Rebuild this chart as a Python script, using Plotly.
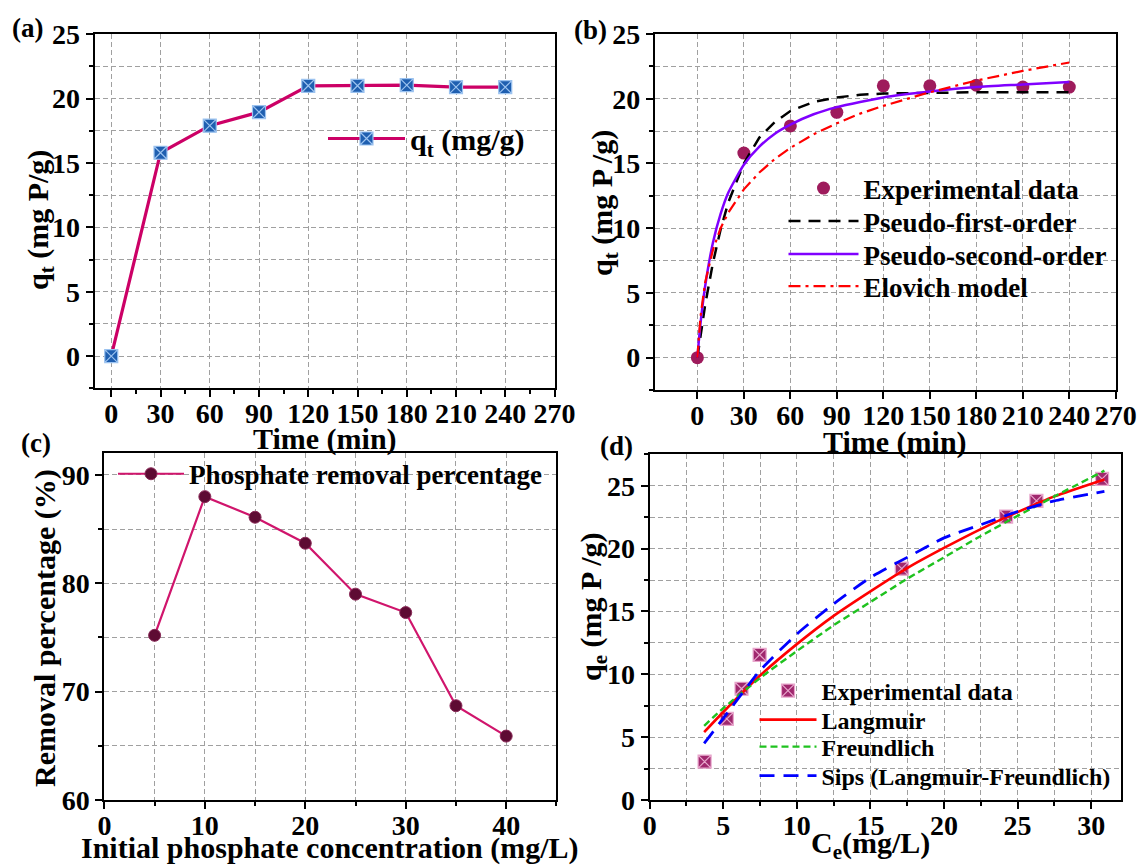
import plotly.graph_objects as go

W, H = 1139, 866
FONT = "Liberation Serif"

# ---------------- data ----------------
# (a)/(b) kinetics
time_min = [0, 30, 60, 90, 120, 150, 180, 210, 240]
qt_exp = [0, 15.8, 17.9, 18.95, 21.0, 21.0, 21.05, 20.9, 20.9]

t_fit = [0, 2, 5, 10, 15, 20, 30, 40, 50, 60, 75, 90, 105, 120, 150, 180, 210, 240]
q_pfo = [0, 1.7, 4.05, 7.3, 9.9, 12.0, 15.0, 17.0, 18.2, 19.05, 19.75, 20.1, 20.3, 20.4, 20.47, 20.5, 20.5, 20.5]
q_pso = [0, 2.6, 5.5, 8.85, 11.1, 12.75, 14.9, 16.3, 17.3, 18.0, 18.8, 19.35, 19.75, 20.1, 20.55, 20.9, 21.1, 21.3]
q_elovich = [0, 3.15, 5.8, 8.3, 10.0, 11.2, 13.0, 14.3, 15.35, 16.2, 17.25, 18.1, 18.85, 19.45, 20.5, 21.4, 22.15, 22.8]

# (c) removal percentage
c0 = [5, 10, 15, 20, 25, 30, 35, 40]
removal = [75.2, 88.0, 86.1, 83.7, 79.0, 77.3, 68.7, 65.9]

# (d) isotherms
ce_exp = [3.73, 5.24, 6.24, 7.47, 17.13, 24.22, 26.28, 30.74]
qe_exp = [3.05, 6.45, 8.85, 11.55, 18.4, 22.55, 23.8, 25.55]
ce_fit = [3.7, 5, 7.5, 10, 12.5, 15, 17.5, 20, 22.5, 25, 27.5, 30.9]
q_langmuir = [5.4, 7.0, 9.9, 12.4, 14.65, 16.6, 18.45, 20.05, 21.55, 22.9, 24.15, 25.5]
q_freundlich = [5.9, 7.3, 9.7, 11.85, 13.9, 15.75, 17.6, 19.3, 21.0, 22.6, 24.15, 26.2]
q_sips = [4.5, 6.5, 10.3, 13.2, 15.6, 17.7, 19.3, 20.85, 21.9, 22.95, 23.8, 24.55]


def fx(px):
    return px / W


def fy(py):
    return 1 - py / H


fig = go.Figure()

# (a)
fig.add_trace(go.Scatter(
    x=time_min, y=qt_exp, mode="lines+markers", name="q<sub>t</sub> (mg/g)",
    line=dict(color="#CC0066", width=3.2),
    marker=dict(symbol="square-x", size=13, color="#1F5FB0",
                line=dict(color="#9CC3F0", width=1.2)),
    xaxis="x", yaxis="y", legend="legend", showlegend=True))

# (b)
fig.add_trace(go.Scatter(
    x=time_min, y=qt_exp, mode="markers", name="Experimental data",
    marker=dict(symbol="circle", size=13, color="#9E1B5C"),
    xaxis="x2", yaxis="y2", legend="legend2", showlegend=True))
fig.add_trace(go.Scatter(
    x=t_fit, y=q_pfo, mode="lines", name="Pseudo-first-order",
    line=dict(color="black", width=2.5, dash="12px,8px"),
    xaxis="x2", yaxis="y2", legend="legend3", showlegend=True))
fig.add_trace(go.Scatter(
    x=t_fit, y=q_pso, mode="lines", name="Pseudo-second-order",
    line=dict(color="#8000FF", width=2.5, shape="spline", smoothing=0.6),
    xaxis="x2", yaxis="y2", legend="legend4", showlegend=True))
fig.add_trace(go.Scatter(
    x=t_fit, y=q_elovich, mode="lines", name="Elovich model",
    line=dict(color="#FF0000", width=2.2, dash="12px,5px,3px,5px"),
    xaxis="x2", yaxis="y2", legend="legend5", showlegend=True))

# (c)
fig.add_trace(go.Scatter(
    x=c0, y=removal, mode="lines+markers", name="Phosphate removal percentage",
    line=dict(color="#D0156C", width=2.2),
    marker=dict(symbol="circle", size=12, color="#5E0B33",
                line=dict(color="#8A2A58", width=1)),
    xaxis="x3", yaxis="y3", legend="legend6", showlegend=True))

# (d)
fig.add_trace(go.Scatter(
    x=ce_exp, y=qe_exp, mode="markers", name="Experimental data",
    marker=dict(symbol="square-x", size=13, color="#A0286E",
                line=dict(color="#E8A6CC", width=1.2)),
    xaxis="x4", yaxis="y4", legend="legend7", showlegend=True))
fig.add_trace(go.Scatter(
    x=ce_fit, y=q_langmuir, mode="lines", name="Langmuir",
    line=dict(color="#FF0000", width=2.6, shape="spline", smoothing=0.6),
    xaxis="x4", yaxis="y4", legend="legend8", showlegend=True))
fig.add_trace(go.Scatter(
    x=ce_fit, y=q_freundlich, mode="lines", name="Freundlich",
    line=dict(color="#1FC21F", width=2.4, dash="7px,4px", shape="spline", smoothing=0.6),
    xaxis="x4", yaxis="y4", legend="legend9", showlegend=True))
fig.add_trace(go.Scatter(
    x=ce_fit, y=q_sips, mode="lines", name="Sips (Langmuir-Freundlich)",
    line=dict(color="#0000FF", width=2.8, dash="15px,9px", shape="spline", smoothing=0.6),
    xaxis="x4", yaxis="y4", legend="legend10", showlegend=True))

GRID = "#A0A0A0"
TICKFONT = dict(family=FONT, size=28, color="black", weight="bold")


def axis(domain, rng, dtick, anchor, minor_dtick=None, minor_grid=True, tick0=0, standoff=0):
    d = dict(domain=domain, range=rng, dtick=dtick, tick0=tick0, anchor=anchor,
             showline=True, linecolor="black", linewidth=2, mirror=True,
             ticks="outside", ticklen=7, tickwidth=2, tickcolor="black",
             showgrid=True, gridcolor=GRID, gridwidth=1, griddash="5px,3px",
             zeroline=False, tickfont=TICKFONT, fixedrange=True, automargin=False,
             ticklabeloverflow="allow", ticklabelstandoff=standoff)
    if minor_dtick is not None:
        d["minor"] = dict(dtick=minor_dtick, ticks="outside", ticklen=4, tickwidth=1.5,
                          tickcolor="black", showgrid=minor_grid, gridcolor=GRID,
                          gridwidth=1, griddash="5px,3px")
    return d


def legend_box(sym_center_x, text_x, row_center_y, size):
    # plotly centres the legend symbol at left + 5 + itemwidth/2 and starts the
    # text at left + itemwidth + 10
    iw = 2 * (text_x - sym_center_x) - 10
    left = text_x - iw - 10
    extra = {30: 29.5, 27: 27, 24: 23.5}[size]
    return dict(x=fx(left), y=fy(row_center_y - extra), xanchor="left", yanchor="top",
                xref="paper", yref="paper", itemwidth=max(30, iw),
                bgcolor="rgba(0,0,0,0)", borderwidth=0,
                font=dict(family=FONT, size=size, color="black", weight="bold"))


XOFF = -8
fig.update_layout(
    width=W, height=H, autosize=False,
    margin=dict(l=0, r=0, t=0, b=0, pad=0, autoexpand=False),
    paper_bgcolor="white", plot_bgcolor="white",
    showlegend=True,
    font=dict(family=FONT, size=27, color="black", weight="bold"),
    xaxis=axis([fx(94.5), fx(554.5)], [-10.2, 270], 30, "y", minor_dtick=15, minor_grid=False, standoff=XOFF),
    yaxis=axis([fy(388.3), fy(34.3)], [-2.5, 25], 5, "x", minor_dtick=2.5),
    xaxis2=axis([fx(654.9), fx(1115.8)], [-27.4, 270], 30, "y2", standoff=XOFF),
    yaxis2=axis([fy(390), fy(34)], [-2.5, 25], 5, "x2", minor_dtick=2.5),
    xaxis3=axis([fx(104.4), fx(556.4)], [0, 45], 10, "y3", minor_dtick=5, standoff=XOFF),
    yaxis3=axis([fy(800), fy(453.3)], [60, 92], 10, "x3", minor_dtick=5),
    xaxis4=axis([fx(649.7), fx(1120.6)], [0, 32], 5, "y4", minor_dtick=2.5, standoff=XOFF),
    yaxis4=axis([fy(800), fy(454.3)], [0, 27.5], 5, "x4", minor_dtick=2.5),
    legend=legend_box(366.5, 410, 142, 30),
    legend2=legend_box(823.5, 863.5, 191, 27),
    legend3=legend_box(823.5, 863.5, 224, 27),
    legend4=legend_box(823.5, 863.5, 257, 27),
    legend5=legend_box(823.5, 863.5, 289, 27),
    legend6=legend_box(151, 189, 476.7, 27),
    legend7=legend_box(788, 821.5, 692, 24),
    legend8=legend_box(788, 821.5, 721, 24),
    legend9=legend_box(788, 821.5, 748, 24),
    legend10=legend_box(788, 821.5, 777, 24),
)

ann_font = dict(family=FONT, size=30, color="black", weight="bold")
lab_font = dict(family=FONT, size=27, color="black", weight="bold")
annotations = [
    # panel labels
    dict(text="(a)", x=fx(27.5), y=fy(28), font=lab_font),
    dict(text="(b)", x=fx(590), y=fy(30), font=lab_font),
    dict(text="(c)", x=fx(35.5), y=fy(443), font=lab_font),
    dict(text="(d)", x=fx(616), y=fy(446), font=lab_font),
    # x titles
    dict(text="Time (min)", x=fx(325), y=fy(439), font=ann_font),
    dict(text="Time (min)", x=fx(895), y=fy(442), font=ann_font),
    dict(text="Initial phosphate concentration (mg/L)", x=fx(330), y=fy(848), font=ann_font),
    dict(text="C<sub>e</sub>(mg/L)", x=fx(870), y=fy(845), font=ann_font),
    # y titles
    dict(text="q<sub>t</sub> (mg P/g)", x=fx(40), y=fy(220), textangle=-90, font=ann_font),
    dict(text="q<sub>t</sub> (mg P /g)", x=fx(604), y=fy(203), textangle=-90, font=ann_font),
    dict(text="Removal percentage (%)", x=fx(45), y=fy(628), textangle=-90, font=ann_font),
    dict(text="q<sub>e</sub> (mg P /g)", x=fx(593), y=fy(607), textangle=-90, font=ann_font),
]
for a in annotations:
    a.update(xref="paper", yref="paper", showarrow=False, xanchor="center", yanchor="middle")
fig.update_layout(annotations=annotations)

fig.write_html(
    "out.html",
    config={"displayModeBar": False},
    post_script="document.body.style.margin='0px';document.body.style.overflow='hidden';",
)
